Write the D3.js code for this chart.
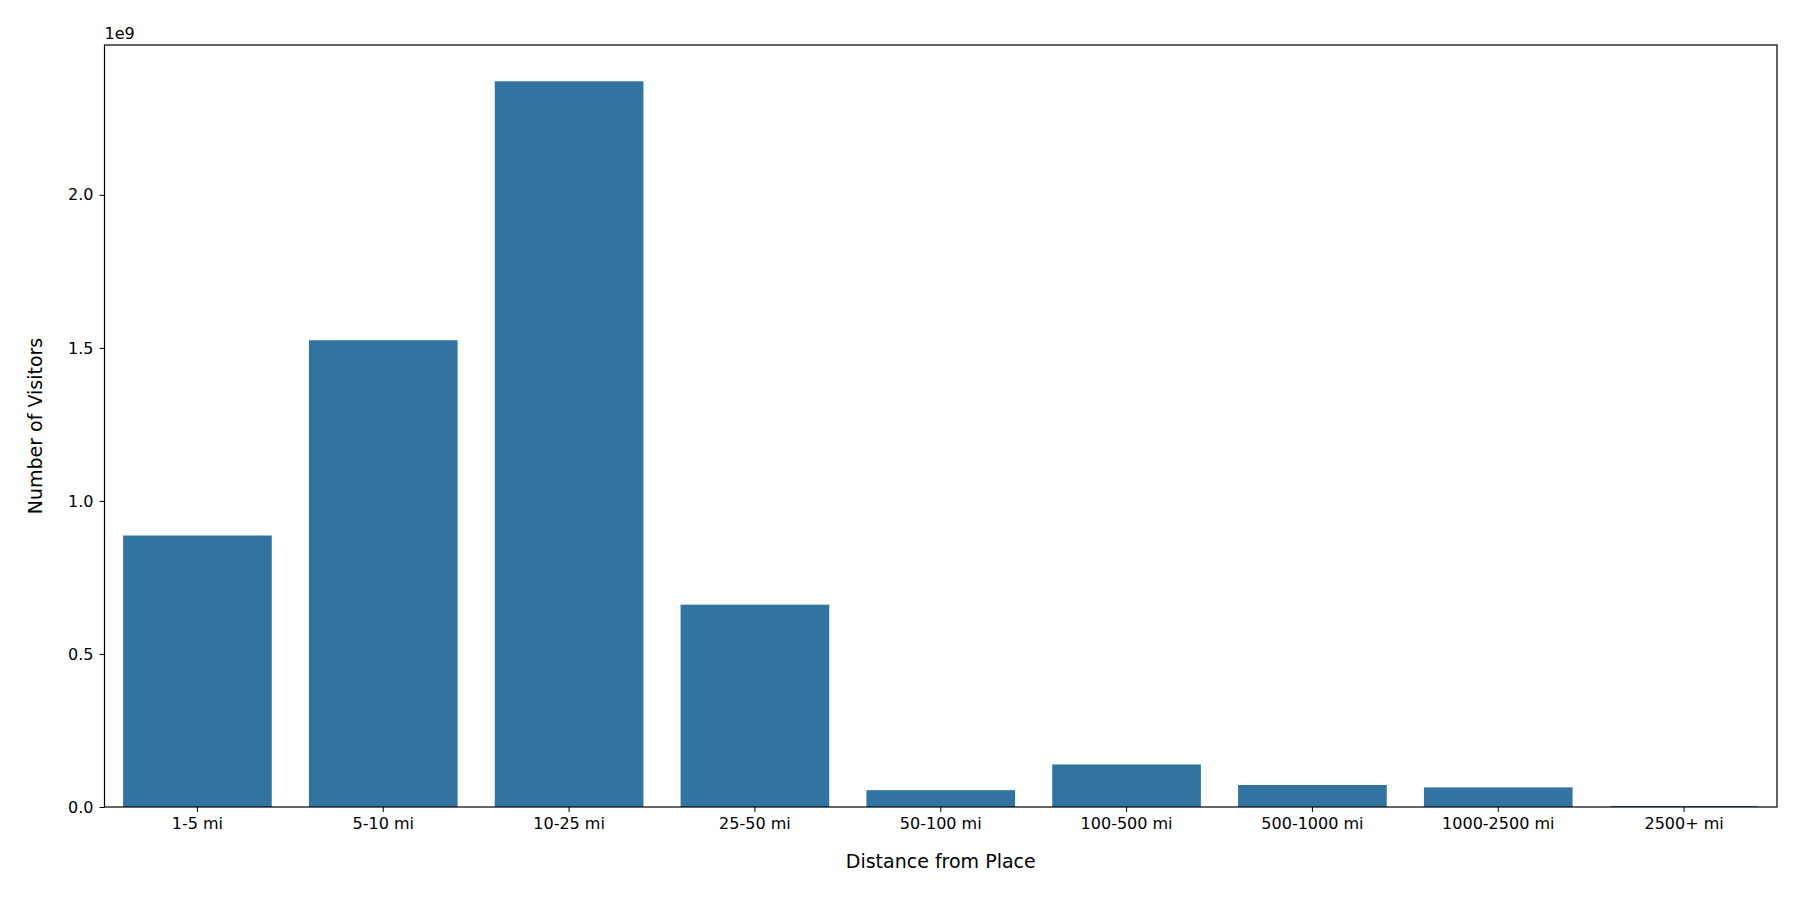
<!DOCTYPE html>
<html>
<head>
<meta charset="utf-8">
<script src="https://cdn.jsdelivr.net/npm/d3@7"></script>
<style>
body { margin: 0; background: #fff; }
text { font-family: "DejaVu Sans", sans-serif; fill: #000; }
</style>
</head>
<body>
<svg id="chart" width="1800" height="900"></svg>
<script>
var categories = ["1-5 mi","5-10 mi","10-25 mi","25-50 mi","50-100 mi","100-500 mi","500-1000 mi","1000-2500 mi","2500+ mi"]
var visitors = [0.887e9,1.525e9,2.371e9,0.661e9,0.055e9,0.139e9,0.072e9,0.064e9,0.003e9]
var yTicks = [0, 0.5e9, 1.0e9, 1.5e9, 2.0e9]
var yTickLabels = ["0.0","0.5","1.0","1.5","2.0"]

var m = {left: 104.5, right: 1777, top: 45, bottom: 807}
var svg = d3.select("#chart")

var x = d3.scaleBand().domain(categories).range([m.left, m.right]).paddingInner(0.2).paddingOuter(0.1)
var y = d3.scaleLinear().domain([0, d3.max(visitors) * 1.05]).range([m.bottom, m.top])

svg.selectAll("rect.bar")
.data(visitors)
.enter().append("rect")
.attr("class","bar")
.attr("x", function(d,i) {return x(categories[i]);})
.attr("width", x.bandwidth())
.attr("y", function(d) {return y(d);})
.attr("height", function(d) {return m.bottom - y(d);})
.attr("fill", "#3274a1");

var xAxis = svg.append("g")
.attr("transform","translate(0," + m.bottom + ")")
.call(d3.axisBottom(x).tickSize(5).tickPadding(6).tickSizeOuter(0));
xAxis.select(".domain").remove();
xAxis.selectAll("text").style("font-size","16px");

var yAxis = svg.append("g")
.attr("transform","translate(" + m.left + ",0)")
.call(d3.axisLeft(y).tickValues(yTicks).tickFormat(function(d,i) {return yTickLabels[i];}).tickSize(5).tickPadding(6));
yAxis.select(".domain").remove();
yAxis.selectAll("text").style("font-size","16px");

svg.append("rect")
.attr("x", m.left).attr("y", m.top)
.attr("width", m.right - m.left).attr("height", m.bottom - m.top)
.attr("fill","none").attr("stroke","#000").attr("stroke-width",1.2);

svg.append("text").attr("x", m.left).attr("y", m.top - 6).style("font-size","16px").text("1e9");

svg.append("text").attr("x", (m.left + m.right) / 2).attr("y", 868)
.attr("text-anchor","middle").style("font-size","19px").text("Distance from Place");

svg.append("text").attr("transform","translate(42," + (m.top + m.bottom) / 2 + ") rotate(-90)")
.attr("text-anchor","middle").style("font-size","19px").text("Number of Visitors");
</script>
</body>
</html>
